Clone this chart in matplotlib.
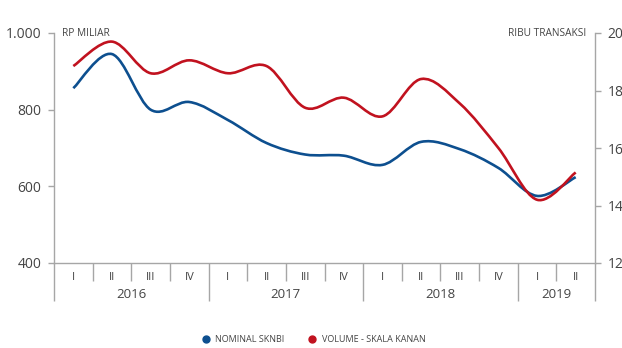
import numpy as np
import matplotlib
matplotlib.use("Agg")
from matplotlib import pyplot as plt
from matplotlib.path import Path
from matplotlib.patches import PathPatch
from matplotlib.lines import Line2D
from matplotlib.ticker import FuncFormatter
import matplotlib.transforms as mtrans

plt.rcParams['font.family'] = ['Open Sans', 'DejaVu Sans']

quarters = ['I', 'II', 'III', 'IV', 'I', 'II', 'III', 'IV', 'I', 'II', 'III', 'IV', 'I', 'II']
years = ['2016', '2017', '2018', '2019']
year_len = [4, 4, 4, 2]
nominal = [856, 945, 800, 820, 773, 713, 683, 680, 656, 716, 697, 648, 575, 624]
volume = [18.85, 19.7, 18.6, 19.05, 18.6, 18.85, 17.4, 17.75, 17.1, 18.4, 17.55, 16.0, 14.2, 15.15]

blue = '#0d4f8f'
red = '#c1121f'
grey = '#a6a6a6'
txt = '#444444'


def smooth_path(x, y, t=1/6.):
    # cubic bezier through the points, catmull-rom style tangents
    x = np.asarray(x, float)
    y = np.asarray(y, float)
    n = len(x)
    verts = [(x[0], y[0])]
    codes = [Path.MOVETO]
    for i in range(n-1):
        i0 = max(i-1, 0)
        i3 = min(i+2, n-1)
        c1 = (x[i] + (x[i+1]-x[i0])*t, y[i] + (y[i+1]-y[i0])*t)
        c2 = (x[i+1] - (x[i3]-x[i])*t, y[i+1] - (y[i3]-y[i])*t)
        verts += [c1, c2, (x[i+1], y[i+1])]
        codes += [Path.CURVE4]*3
    return Path(verts, codes)


fig = plt.figure(figsize=(6.22, 3.48), dpi=100)
ax = fig.add_axes([54/622., 1-263/348., 541/622., 230/348.])
ax2 = ax.twinx()

xs = np.arange(len(quarters))
ax.add_patch(PathPatch(smooth_path(xs, nominal), fill=False, ec=blue, lw=1.9, capstyle='butt', zorder=3))
ax2.add_patch(PathPatch(smooth_path(xs, volume), fill=False, ec=red, lw=1.9, capstyle='butt', zorder=3))

ax.set_xlim(-0.5, len(quarters)-0.5)
ax.set_ylim(400, 1000)
ax2.set_ylim(12, 20)
ax.set_yticks([400, 600, 800, 1000])
ax2.set_yticks([12, 14, 16, 18, 20])
ax.yaxis.set_major_formatter(FuncFormatter(lambda v, p: '{:,.0f}'.format(v).replace(',', '.')))

for a in (ax, ax2):
    a.spines['top'].set_visible(False)
    for s in a.spines.values():
        s.set_color(grey)
        s.set_linewidth(1.0)
    a.tick_params(axis='y', colors=grey, labelcolor=txt, labelsize=10, length=4, width=1.0, pad=5)
ax.spines['right'].set_visible(False)
ax2.spines['left'].set_visible(False)
ax2.spines['bottom'].set_visible(False)

# category axis: quarter and year separators
bounds = np.cumsum([0] + year_len) - 0.5
ax.set_xticks(bounds)
ax.set_xticks(np.arange(len(quarters)+1) - 0.5, minor=True)
ax.tick_params(axis='x', which='major', direction='out', length=27, width=1.0, color=grey, labelbottom=False)
ax.tick_params(axis='x', which='minor', direction='out', length=13, width=1.0, color=grey, labelbottom=False)

tr = mtrans.blended_transform_factory(ax.transData, ax.transAxes)
for i, q in enumerate(quarters):
    ax.text(i, -0.062, q, transform=tr, ha='center', va='center', fontsize=8, color=txt)
start = 0
for y, n in zip(years, year_len):
    ax.text(start + (n-1)/2., -0.135, y, transform=tr, ha='center', va='center', fontsize=9.5, color=txt)
    start += n

ax.text(0.015, 1.0, 'RP MILIAR', transform=ax.transAxes, ha='left', va='center', fontsize=7.3, color=txt)
ax.text(0.983, 1.0, 'RIBU TRANSAKSI', transform=ax.transAxes, ha='right', va='center', fontsize=7.3, color=txt)

handles = [Line2D([], [], ls='none', marker='o', ms=5, color=blue),
           Line2D([], [], ls='none', marker='o', ms=5, color=red)]
fig.legend(handles, ['NOMINAL SKNBI', 'VOLUME - SKALA KANAN'], loc='center', bbox_to_anchor=(0.5, 1-340/348.),
           ncol=2, frameon=False, fontsize=6.5, handletextpad=0.1, columnspacing=2.0, labelcolor=txt)

fig.savefig('out.png', dpi=100)
